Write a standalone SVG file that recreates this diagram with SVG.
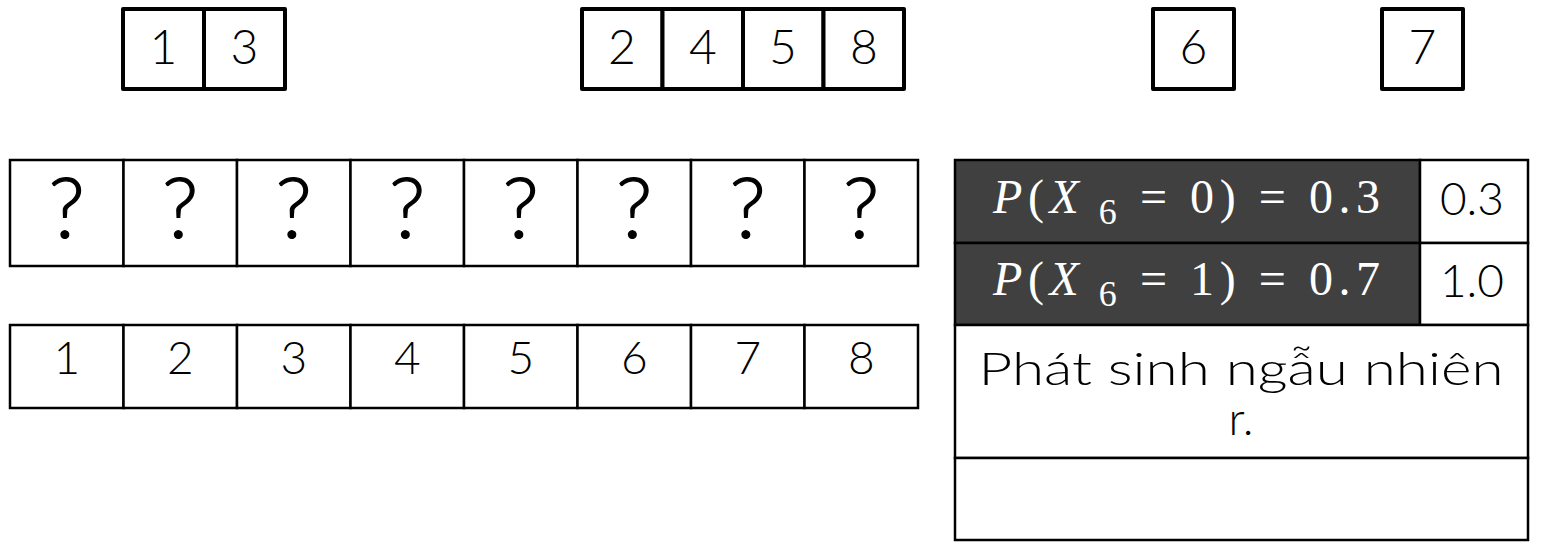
<svg xmlns="http://www.w3.org/2000/svg" width="1546" height="554" viewBox="0 0 1546 554">
<style>
.box{fill:#fff;stroke:#000;stroke-width:4;stroke-linejoin:round}
.cell{fill:#fff;stroke:#000;stroke-width:2.5}
.dark{fill:#404040;stroke:#000;stroke-width:2.5}
.t{font-family:Lato,"Open Sans",sans-serif;font-weight:300;fill:#000;text-anchor:middle}
.top{font-size:48px}
.q{font-size:84px;font-weight:300;stroke:#000;stroke-width:1.2}
.n{font-size:46px}
.m{font-family:"Liberation Serif","DejaVu Serif",serif;font-size:48px;fill:#fff}
</style>
<rect width="1546" height="554" fill="#fff"/>
<g id="group13">
<rect class="box" x="123" y="9" width="81" height="80"/>
<rect class="box" x="204" y="9" width="81" height="80"/>
<text class="t top" x="163.5" y="64">1</text>
<text class="t top" x="244.5" y="64">3</text>
</g>
<g id="group2458">
<rect class="box" x="582" y="9" width="80.5" height="80"/>
<rect class="box" x="662.5" y="9" width="80.5" height="80"/>
<rect class="box" x="743" y="9" width="80.5" height="80"/>
<rect class="box" x="823.5" y="9" width="80.5" height="80"/>
<text class="t top" x="622" y="64">2</text>
<text class="t top" x="703" y="64">4</text>
<text class="t top" x="783" y="64">5</text>
<text class="t top" x="864" y="64">8</text>
</g>
<g id="group6">
<rect class="box" x="1153" y="9" width="81" height="80"/>
<text class="t top" x="1193.5" y="64">6</text>
</g>
<g id="group7">
<rect class="box" x="1382" y="9" width="81" height="80"/>
<text class="t top" x="1422.5" y="64">7</text>
</g>
<g id="unknowns">
<rect class="cell" x="10" y="160" width="113.5" height="106"/>
<rect class="cell" x="123.5" y="160" width="113.5" height="106"/>
<rect class="cell" x="237" y="160" width="113.5" height="106"/>
<rect class="cell" x="350.5" y="160" width="113.5" height="106"/>
<rect class="cell" x="464" y="160" width="113.5" height="106"/>
<rect class="cell" x="577.5" y="160" width="113.5" height="106"/>
<rect class="cell" x="691" y="160" width="113.5" height="106"/>
<rect class="cell" x="804.5" y="160" width="113.5" height="106"/>
<g class="t q">
<text x="66.75" y="238">?</text>
<text x="180.25" y="238">?</text>
<text x="293.75" y="238">?</text>
<text x="407.25" y="238">?</text>
<text x="520.75" y="238">?</text>
<text x="634.25" y="238">?</text>
<text x="747.75" y="238">?</text>
<text x="861.25" y="238">?</text>
</g>
</g>
<g id="indices">
<rect class="cell" x="10" y="325" width="113.5" height="83"/>
<rect class="cell" x="123.5" y="325" width="113.5" height="83"/>
<rect class="cell" x="237" y="325" width="113.5" height="83"/>
<rect class="cell" x="350.5" y="325" width="113.5" height="83"/>
<rect class="cell" x="464" y="325" width="113.5" height="83"/>
<rect class="cell" x="577.5" y="325" width="113.5" height="83"/>
<rect class="cell" x="691" y="325" width="113.5" height="83"/>
<rect class="cell" x="804.5" y="325" width="113.5" height="83"/>
<g class="t n">
<text x="66.75" y="374">1</text>
<text x="180.25" y="374">2</text>
<text x="293.75" y="374">3</text>
<text x="407.25" y="374">4</text>
<text x="520.75" y="374">5</text>
<text x="634.25" y="374">6</text>
<text x="747.75" y="374">7</text>
<text x="861.25" y="374">8</text>
</g>
</g>
<g id="prob-table">
<rect class="dark" x="955" y="160" width="465" height="83"/>
<rect class="cell" x="1420" y="160" width="108" height="83"/>
<rect class="dark" x="955" y="243" width="465" height="82"/>
<rect class="cell" x="1420" y="243" width="108" height="82"/>
<rect class="cell" x="955" y="325" width="573" height="133"/>
<rect class="cell" x="955" y="458" width="573" height="82"/>
<text class="m" x="993" y="213" textLength="387" lengthAdjust="spacing"><tspan font-style="italic">P</tspan>(<tspan font-style="italic">X</tspan><tspan dy="11" font-size="36"> 6</tspan><tspan dy="-11"> = 0) = 0.3</tspan></text>
<text class="m" x="993" y="295" textLength="387" lengthAdjust="spacing"><tspan font-style="italic">P</tspan>(<tspan font-style="italic">X</tspan><tspan dy="11" font-size="36"> 6</tspan><tspan dy="-11"> = 1) = 0.7</tspan></text>
<text class="t n" x="1472" y="215">0.3</text>
<text class="t n" x="1472" y="297">1.0</text>
<text class="t n" x="1241" y="385" textLength="525" lengthAdjust="spacingAndGlyphs">Phát sinh ngẫu nhiên</text>
<text class="t n" x="1241" y="435">r.</text>
</g>
</svg>
